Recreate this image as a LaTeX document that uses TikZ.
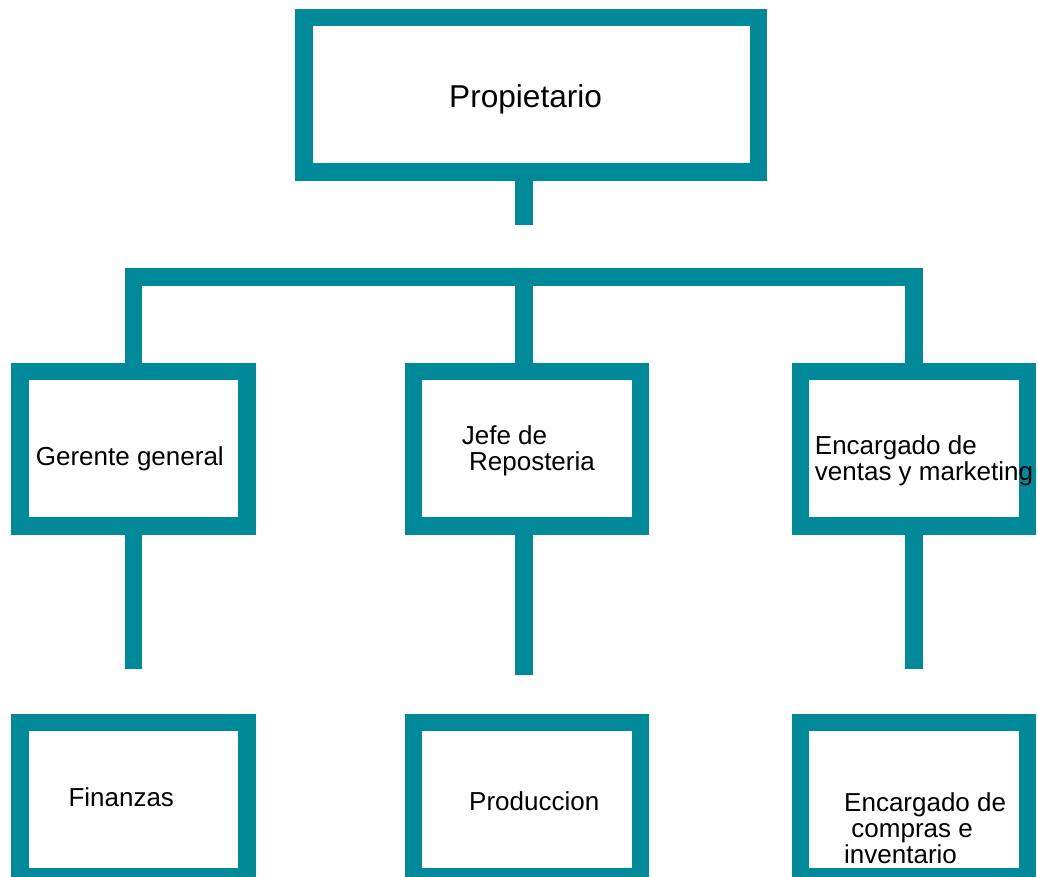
\documentclass[tikz,border=0pt]{standalone}
\usepackage{fontspec}
\setmainfont{Liberation Sans}
\usetikzlibrary{calc}
\definecolor{orgteal}{RGB}{0,138,153}

\begin{document}
\begin{tikzpicture}[x=1pt, y=-1pt,
    puesto/.style={rectangle, draw=orgteal, line width=17.5pt, outer sep=8.75pt,
      inner sep=0pt, minimum width=227pt, minimum height=154.5pt},
    rotulo/.style={anchor=base west, inner sep=0pt, align=left,
      font=\fontsize{26}{26}\selectfont},
    enlace/.style={draw=orgteal, line width=17.5pt, line join=miter}]

  \useasboundingbox (0,0) rectangle (1038,877);

  % cajas
  \node[puesto, minimum width=454.5pt] (prop) at (531.3,95) {};
  \node[puesto] (gerente) at (133.7,448.5) {};
  \node[puesto] (jefe) at (527,448.5) {};
  \node[puesto] (ventas) at (914.2,448.5) {};
  \node[puesto] (finanzas) at (133.7,799.5) {};
  \node[puesto] (produccion) at (527,799.5) {};
  \node[puesto] (compras) at (914.2,799.5) {};

  % textos (base = ultima linea)
  \node[rotulo, font=\fontsize{31.6}{32}\selectfont] (tprop) at (449,107.3) {Propietario};
  \node[rotulo] (tgerente) at (35.7,465) {Gerente general};
  \node[rotulo] (tjefe) at (461.7,470.7) {Jefe de\\\ Reposteria};
  \node[rotulo] (tventas) at (814.7,480) {Encargado de\\ventas y marketing};
  \node[rotulo] (tfinanzas) at (68.3,806.7) {Finanzas};
  \node[rotulo] (tproduccion) at (469,810) {Produccion};
  \node[rotulo] (tcompras) at (844,863.3) {Encargado de\\\ compras e\\inventario};

  % lineas
  \coordinate (tope) at (524,225.3);
  \coordinate (barra) at (524,277);
  \coordinate (finA) at (133.7,669.3);
  \coordinate (finB) at (524,675);
  \coordinate (finC) at (913.8,669.3);

  \draw[enlace] (prop.south -| tope) -- (tope);
  \draw[enlace] (gerente.north) |- (barra) -| (ventas.north);
  \draw[enlace] (barra) -- (jefe.north -| barra);
  \draw[enlace] (gerente.south) -- (finA);
  \draw[enlace] (jefe.south -| finB) -- (finB);
  \draw[enlace] (ventas.south -| finC) -- (finC);
\end{tikzpicture}
\end{document}
